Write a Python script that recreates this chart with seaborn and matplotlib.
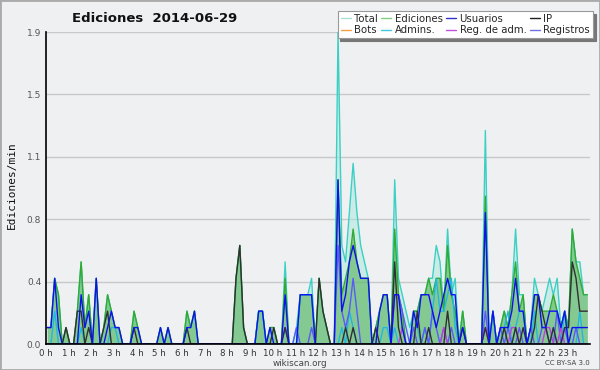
import numpy as np
import pandas as pd
import seaborn as sns
import matplotlib.pyplot as plt
from matplotlib.lines import Line2D
from matplotlib.patches import Rectangle

# ediciones por franja de 10 minutos (6 franjas por hora), 2014-06-29
total = [
    1,1,4,3,0,1,  0,0,2,5,1,3,  0,4,0,1,3,2,  1,1,0,0,0,2,   # 0-3 h
    1,0,0,0,0,0,  1,0,1,0,0,0,  0,2,1,2,0,0,  0,0,0,0,0,0,   # 4-7 h
    0,0,4,6,1,0,  0,0,2,2,0,1,  1,0,0,5,0,0,  1,3,3,3,4,0,   # 8-11 h
    4,2,1,0,0,19, 6,5,8,11,8,6, 5,4,0,1,2,3,  3,0,10,4,3,2,  # 12-15 h
    1,2,2,3,3,4,  4,6,5,2,7,3,  4,0,2,0,0,0,  0,0,13,0,2,0,  # 16-19 h
    1,2,1,3,7,3,  3,0,1,4,3,2,  3,4,3,4,1,2,  1,7,5,5,3,3,   # 20-23 h
]
ediciones = [
    1,1,4,3,0,1,  0,0,2,5,1,3,  0,4,0,1,3,2,  1,1,0,0,0,2,
    1,0,0,0,0,0,  1,0,1,0,0,0,  0,2,1,2,0,0,  0,0,0,0,0,0,
    0,0,4,6,1,0,  0,0,2,2,0,1,  1,0,0,4,0,0,  0,3,3,3,3,0,
    4,2,1,0,0,10, 3,4,5,7,5,4,  4,4,0,1,2,3,  3,0,7,3,2,0,
    0,2,2,3,3,4,  3,4,4,2,6,3,  2,0,2,0,0,0,  0,0,9,0,2,0,
    1,2,1,3,5,2,  3,0,1,3,3,2,  2,2,3,2,1,2,  1,7,5,4,3,3,
]
usuarios = [
    1,1,4,1,0,0,  0,0,0,3,1,2,  0,4,0,0,1,2,  1,1,0,0,0,1,
    1,0,0,0,0,0,  1,0,1,0,0,0,  0,1,1,2,0,0,  0,0,0,0,0,0,
    0,0,0,0,0,0,  0,0,2,2,0,1,  0,0,0,3,0,0,  0,3,3,3,3,0,
    0,0,0,0,0,10, 2,3,5,6,5,4,  4,4,0,0,2,3,  3,0,3,3,1,0,
    0,2,1,3,3,3,  2,1,2,3,4,3,  3,0,1,0,0,0,  0,0,8,0,2,0,
    1,1,1,2,4,2,  2,0,1,3,3,1,  1,2,2,2,1,2,  0,1,1,1,1,1,
]
ip = [
    0,0,0,0,0,1,  0,0,2,2,0,1,  0,0,0,1,2,0,  0,0,0,0,0,1,
    0,0,0,0,0,0,  0,0,0,0,0,0,  0,1,0,0,0,0,  0,0,0,0,0,0,
    0,0,4,6,1,0,  0,0,0,0,0,0,  1,0,0,1,0,0,  0,0,0,0,0,0,
    4,2,1,0,0,0,  0,1,0,1,0,0,  0,0,0,1,0,0,  0,0,5,1,0,0,
    0,0,2,0,0,1,  0,0,0,0,2,0,  0,0,1,0,0,0,  0,0,1,0,0,0,
    0,1,0,0,1,0,  1,0,0,1,3,2,  1,0,1,0,0,1,  1,5,4,2,2,2,
]
admins = [
    0,0,2,0,0,0,  0,0,0,1,0,0,  0,0,0,0,0,1,  1,0,0,0,0,0,
    0,0,0,0,0,0,  0,0,0,0,0,0,  0,0,0,0,0,0,  0,0,0,0,0,0,
    0,0,0,0,0,0,  0,0,2,2,0,0,  0,0,0,1,0,0,  0,3,3,3,3,0,
    0,0,0,0,0,0,  1,0,2,1,0,0,  0,0,0,0,0,1,  1,0,1,0,0,0,
    0,1,1,0,1,0,  2,4,2,2,3,4,  1,0,0,0,0,0,  0,0,1,0,2,0,
    0,1,2,0,1,2,  2,0,0,2,0,0,  0,0,1,0,0,2,  0,0,0,2,0,0,
]
registros = [
    0,0,0,0,0,0,  0,0,0,0,0,0,  0,0,0,0,0,0,  0,0,0,0,0,0,
    0,0,0,0,0,0,  0,0,0,0,0,0,  0,0,0,0,0,0,  0,0,0,0,0,0,
    0,0,0,0,0,0,  0,0,0,0,0,0,  0,0,0,1,0,0,  1,0,0,0,1,0,
    0,0,0,0,0,6,  2,1,2,4,2,0,  0,0,0,0,0,0,  0,0,3,3,2,1,
    0,1,0,0,1,0,  2,1,0,1,0,1,  0,0,0,0,0,0,  0,0,2,0,0,0,
    1,0,1,0,0,1,  0,0,1,0,0,1,  1,0,0,2,0,1,  0,0,1,0,0,0,
]
reg_adm = [
    0,0,0,0,0,0,  0,0,0,0,0,0,  0,0,0,0,0,0,  0,0,0,0,0,0,
    0,0,0,0,0,0,  0,0,0,0,0,0,  0,0,0,0,0,0,  0,0,0,0,0,0,
    0,0,0,0,0,0,  0,0,0,0,0,0,  0,0,0,0,0,0,  0,0,0,0,0,0,
    0,0,0,0,0,0,  0,0,0,0,0,0,  0,0,0,0,0,0,  0,0,0,0,1,0,
    0,0,0,0,0,0,  0,0,0,1,0,0,  0,0,0,0,0,0,  0,0,1,0,0,0,
    0,0,0,1,1,0,  0,0,0,0,0,0,  1,1,0,0,1,0,  0,0,0,0,0,0,
]

horas = [f"{h} h" for h in range(24)]
y_max = 1.9

sns.set_style("white")
plt.rcParams['font.family'] = ['DejaVu Sans']

df = pd.DataFrame({
    "hora": (np.arange(144) + 0.3) / 6,
    "Total": np.array(total) / 10,
    "Ediciones": np.array(ediciones) / 10,
    "Usuarios": np.array(usuarios) / 10,
    "IP": np.array(ip) / 10,
    "Admins.": np.array(admins) / 10,
    "Registros": np.array(registros) / 10,
    "Reg. de adm.": np.array(reg_adm) / 10,
})

bg = '#eff0f2'
fig = plt.figure(figsize=(6, 3.7), dpi=100, facecolor=bg)
ax = fig.add_axes([46/600, 26/370, 544/600, 312/370])
ax.set_facecolor(bg)

ax.fill_between(df["hora"], df["Total"], color='#a8e8dc', alpha=0.5, lw=0)
ax.fill_between(df["hora"], df["Ediciones"], color='#40a840', alpha=0.5, lw=0)

lineas = [
    ("Total", '#3cd0c4'),
    ("Ediciones", '#30aa30'),
    ("Admins.", '#20b8e0'),
    ("Registros", '#5a5af8'),
    ("Reg. de adm.", '#c040e0'),
    ("IP", '#303030'),
    ("Usuarios", '#1010ee'),
]
for col, c in lineas:
    sns.lineplot(data=df, x="hora", y=col, ax=ax, color=c, lw=1.0,
                 errorbar=None, legend=False)

ax.set_xlim(0, 24)
ax.set_ylim(0, y_max)
yt = np.linspace(0, y_max, 6)
ax.set_yticks(yt)
ax.set_yticklabels([f"{v:.1f}" for v in yt], fontsize=6.5, color='#555555')
ax.set_yticks(yt[:-1] + y_max / 10, minor=True)
ax.set_xticks(range(24))
ax.set_xticklabels(horas, fontsize=6.2, color='#333333')
ax.set_xticks(np.arange(0, 24, 1/6), minor=True)
ax.tick_params(axis='both', which='both', direction='out', length=3, width=1,
               color='black', pad=0.5)
ax.yaxis.grid(True, color='#c8c8c8', lw=1)
ax.xaxis.grid(False)
ax.set_xlabel("")
ax.set_ylabel("")
for s in ['top', 'right']:
    ax.spines[s].set_visible(False)
for s in ['left', 'bottom']:
    ax.spines[s].set_color('black')
    ax.spines[s].set_linewidth(1.2)

fig.text(155/600, 1 - 18/370, "Ediciones  2014-06-29", ha='center', va='center',
         fontsize=9.5, fontweight='bold', color='#111111')
fig.text(12/600, 0.5, "Ediciones/min", rotation=90, ha='center', va='center',
         family='DejaVu Sans Mono', fontsize=8, color='#111111')
fig.text(0.5, 7/370, "wikiscan.org", ha='center', va='center', fontsize=6.3,
         color='#444444')
fig.text(590/600, 7/370, "CC BY-SA 3.0", ha='right', va='center', fontsize=5,
         color='#444444')

leyenda = [
    ("Total", '#a8e0d8'), ("Bots", '#f0a040'),
    ("Ediciones", '#80d080'), ("Admins.", '#40c8e0'),
    ("Usuarios", '#3030d0'), ("Reg. de adm.", '#c050e0'),
    ("IP", '#202020'), ("Registros", '#7070e0'),
]
handles = [Line2D([0], [0], color=c, lw=1) for _, c in leyenda]
leg = fig.legend(handles, [n for n, _ in leyenda], ncol=4, loc='upper right',
                 bbox_to_anchor=(593/600, 1 - 11/370), fontsize=7.3,
                 frameon=True, fancybox=False, shadow={'color': '#777777', 'alpha': 1},
                 handlelength=1.0, handletextpad=0.35, columnspacing=0.3,
                 labelspacing=0.12, borderpad=0.3, borderaxespad=0)
leg.get_frame().set_edgecolor('#999999')
leg.get_frame().set_linewidth(0.8)

fig.patches.append(Rectangle((0, 0), 1, 1, transform=fig.transFigure, fill=False,
                             ec='#aaaaaa', lw=2))

fig.savefig("out.png", dpi=100, facecolor=bg)
